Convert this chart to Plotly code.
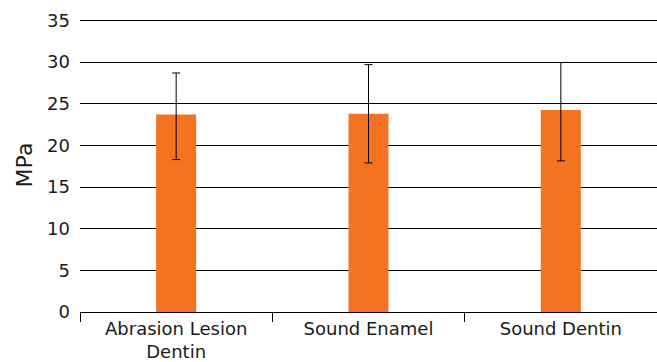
import plotly.graph_objects as go

categories = ["Abrasion Lesion<br>Dentin", "Sound Enamel", "Sound Dentin"]
values = [23.7, 23.8, 24.25]
err_plus = [5.0, 5.9, 5.7]
err_minus = [5.4, 5.9, 6.1]
y_ticks = [0, 5, 10, 15, 20, 25, 30, 35]

fig = go.Figure(go.Bar(
    x=categories, y=values, width=0.208,
    marker=dict(color="#F37321", line=dict(width=0)),
    error_y=dict(type="data", array=err_plus, arrayminus=err_minus,
                 symmetric=False, color="#000000", thickness=1, width=4),
))

fig.update_layout(
    width=657, height=362,
    margin=dict(l=80, r=0, t=18, b=50, autoexpand=False),
    paper_bgcolor="white", plot_bgcolor="white",
    font=dict(family="DejaVu Sans, sans-serif", size=18, color="#1a1a1a"),
    showlegend=False,
)
fig.update_xaxes(
    automargin=False,
    showline=True, linecolor="#000000", linewidth=1,
    ticks="outside", tickson="boundaries", ticklen=9, tickcolor="#000000",
    tickfont=dict(size=18), showgrid=False,
)
fig.update_yaxes(
    automargin=False,
    range=[0, 35.3], tickvals=y_ticks, showgrid=True, gridcolor="#000000", gridwidth=1,
    zeroline=False, showline=False, ticks="", ticklabelstandoff=9,
    title=dict(text="MPa", font=dict(size=22), standoff=8),
    tickfont=dict(size=18),
)

fig.write_html(
    "out.html",
    config={"displayModeBar": False},
    post_script="document.body.style.margin='0';document.body.style.overflow='hidden';",
)
